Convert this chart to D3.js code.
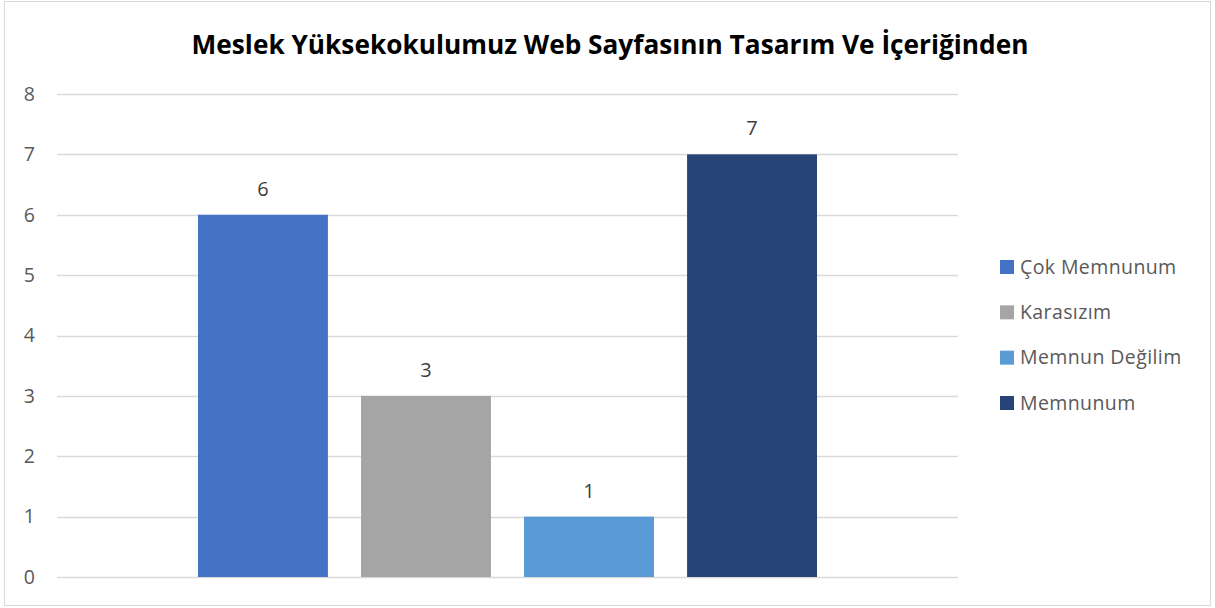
<!DOCTYPE html>
<html>
<head>
<meta charset="utf-8">
<script src="https://cdn.jsdelivr.net/npm/d3@7"></script>
<style>
  html, body { margin: 0; padding: 0; background: #fff; }
  svg { display: block; }
</style>
</head>
<body>
<svg id="chart" width="1215" height="608"></svg>
<script>
// Survey answers about the vocational school's web page design and content
const titleText = "Meslek Yüksekokulumuz Web Sayfasının Tasarım Ve İçeriğinden";
const seriesNames = ["Çok Memnunum", "Karasızım", "Memnun Değilim", "Memnunum"];
const seriesValues = [6, 3, 1, 7];
const seriesColors = ["#4472C4", "#A5A5A5", "#5B9BD5", "#264478"];
const yTicks = [0, 1, 2, 3, 4, 5, 6, 7, 8];

const svg = d3.select("#chart");
const fontFamily = "'Open Sans', 'Noto Sans', sans-serif";

// outer chart frame
svg.append("rect")
  .attr("x", 4.5).attr("y", 1.5)
  .attr("width", 1206).attr("height", 604)
  .attr("fill", "#fff").attr("stroke", "#d9d9d9").attr("stroke-width", 1);

const plot = { left: 57, right: 958, top: 94, bottom: 577 };

const y = d3.scaleLinear().domain([0, 8]).range([plot.bottom, plot.top]);

// one category group holding the four series
const x0 = d3.scaleBand().domain(["grup"]).range([plot.left, plot.right]).padding(0.1855);
const x1 = d3.scaleBand().domain(seriesNames)
  .range([x0("grup"), x0("grup") + x0.bandwidth()])
  .paddingInner(0.203).paddingOuter(0);

// horizontal gridlines
svg.append("g")
  .selectAll("line")
  .data(yTicks)
  .join("line")
  .attr("x1", plot.left).attr("x2", plot.right)
  .attr("y1", d => Math.round(y(d)) + 0.5).attr("y2", d => Math.round(y(d)) + 0.5)
  .attr("stroke", "#d9d9d9").attr("stroke-width", 1.5);

// y axis labels
const yAxis = d3.axisLeft(y).tickValues(yTicks).tickSize(0).tickPadding(0);
const yg = svg.append("g").attr("transform", "translate(35,0)").call(yAxis);
yg.select(".domain").remove();
yg.selectAll("text")
  .attr("fill", "#595959")
  .attr("font-family", fontFamily)
  .attr("font-size", 19.5);

// bars
const data = seriesNames.map((n, i) => ({ name: n, value: seriesValues[i], color: seriesColors[i] }));
svg.append("g")
  .selectAll("rect")
  .data(data)
  .join("rect")
  .attr("x", d => x1(d.name))
  .attr("y", d => y(d.value))
  .attr("width", x1.bandwidth())
  .attr("height", d => y(0) - y(d.value))
  .attr("fill", d => d.color);

// value labels above bars
svg.append("g")
  .selectAll("text")
  .data(data)
  .join("text")
  .attr("x", d => x1(d.name) + x1.bandwidth() / 2)
  .attr("y", d => y(d.value) - 19)
  .attr("text-anchor", "middle")
  .attr("fill", "#404040")
  .attr("font-family", fontFamily)
  .attr("font-size", 20)
  .text(d => d.value);

// title, sized to span its line
const title = svg.append("text")
  .attr("x", 610)
  .attr("y", 54)
  .attr("text-anchor", "middle")
  .attr("font-family", fontFamily)
  .attr("font-weight", "bold")
  .attr("font-size", 25)
  .attr("fill", "#000")
  .text(titleText);
const tw = title.node().getComputedTextLength();
title.attr("font-size", 25 * 837 / tw);

// legend
const legend = svg.append("g");
const rowY = d3.scalePoint().domain(seriesNames).range([267, 403]);
const items = legend.selectAll("g")
  .data(data)
  .join("g")
  .attr("transform", d => `translate(1000,${rowY(d.name)})`);
items.append("rect")
  .attr("x", 0).attr("y", -7)
  .attr("width", 14).attr("height", 14)
  .attr("fill", d => d.color);
items.append("text")
  .attr("x", 20).attr("y", 0)
  .attr("dy", "0.35em")
  .attr("fill", "#595959")
  .attr("font-family", fontFamily)
  .attr("font-size", 19.5)
  .attr("letter-spacing", 0.4)
  .text(d => d.name);
</script>
</body>
</html>
